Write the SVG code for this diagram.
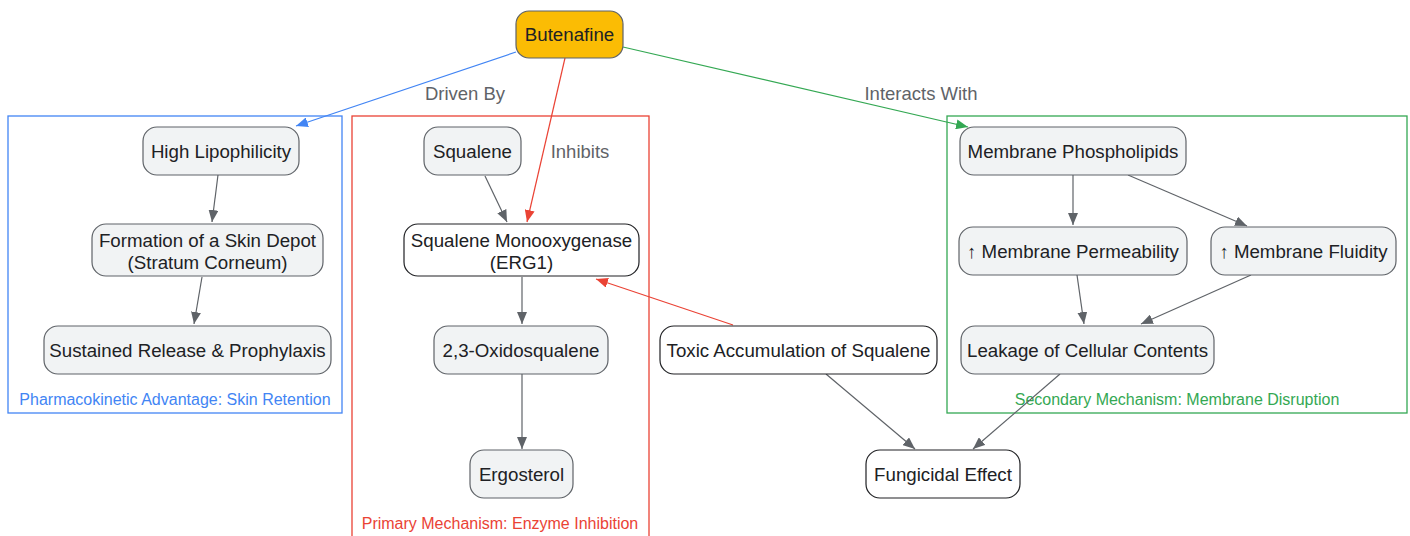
<svg xmlns="http://www.w3.org/2000/svg" width="1410" height="536" viewBox="0 0 1410 536">
<style>
.n rect{fill:#f1f3f4;stroke:#5f6368;stroke-width:1.2}
.n.w rect{fill:#ffffff;stroke:#202124}
.n.y rect{fill:#fbbc04;stroke:#5f6368}
.n text{font-family:"Liberation Sans",Arial,sans-serif;font-size:18.7px;fill:#202124;text-anchor:middle}
.cl{fill:none;stroke-width:1.3}
.cll{font-family:"Liberation Sans",Arial,sans-serif;font-size:16px;text-anchor:middle}
.e{fill:none;stroke:#5f6368;stroke-width:1.2}
.e.b{stroke:#4285f4}
.e.r{stroke:#ea4335}
.e.g{stroke:#34a853}
.el{font-family:"Liberation Sans",Arial,sans-serif;font-size:18.5px;fill:#5f6368;text-anchor:middle}
</style>
<defs>
<marker id="ag" viewBox="0 0 12 10" refX="12" refY="5" markerWidth="12" markerHeight="10" markerUnits="userSpaceOnUse" orient="auto"><path d="M0,0 L12,5 L0,10 z" fill="#5f6368"/></marker>
<marker id="ab" viewBox="0 0 12 10" refX="12" refY="5" markerWidth="12" markerHeight="10" markerUnits="userSpaceOnUse" orient="auto"><path d="M0,0 L12,5 L0,10 z" fill="#4285f4"/></marker>
<marker id="ar" viewBox="0 0 12 10" refX="12" refY="5" markerWidth="12" markerHeight="10" markerUnits="userSpaceOnUse" orient="auto"><path d="M0,0 L12,5 L0,10 z" fill="#ea4335"/></marker>
<marker id="agr" viewBox="0 0 12 10" refX="12" refY="5" markerWidth="12" markerHeight="10" markerUnits="userSpaceOnUse" orient="auto"><path d="M0,0 L12,5 L0,10 z" fill="#34a853"/></marker>
</defs>
<rect width="1410" height="536" fill="#ffffff"/>
<g id="clusters">
<g id="cluster-pk"><rect class="cl" x="8" y="116" width="334" height="297" stroke="#4285f4"/><text class="cll" x="175" y="405" fill="#4285f4">Pharmacokinetic Advantage: Skin Retention</text></g>
<g id="cluster-primary"><rect class="cl" x="352" y="116" width="297" height="425" stroke="#ea4335"/><text class="cll" x="500" y="529" fill="#ea4335">Primary Mechanism: Enzyme Inhibition</text></g>
<g id="cluster-secondary"><rect class="cl" x="947" y="116" width="460" height="297" stroke="#34a853"/><text class="cll" x="1177" y="405" fill="#34a853">Secondary Mechanism: Membrane Disruption</text></g>
</g>
<g id="connectors">
<path class="e b" d="M516,52 L296,126" marker-end="url(#ab)"/>
<path class="e r" d="M565,58 L527,222" marker-end="url(#ar)"/>
<path class="e g" d="M623,47 L968,127" marker-end="url(#agr)"/>
<path class="e" d="M218,175 L212,222" marker-end="url(#ag)"/>
<path class="e" d="M202,277 L194,324" marker-end="url(#ag)"/>
<path class="e" d="M485,176 L507,222" marker-end="url(#ag)"/>
<path class="e" d="M522,277 L522,324" marker-end="url(#ag)"/>
<path class="e" d="M522,374 L522,449" marker-end="url(#ag)"/>
<path class="e r" d="M733,325 L596,279" marker-end="url(#ar)"/>
<path class="e" d="M826,374 L915,449" marker-end="url(#ag)"/>
<path class="e" d="M1060,374 L973,449" marker-end="url(#ag)"/>
<path class="e" d="M1073,175 L1073,225" marker-end="url(#ag)"/>
<path class="e" d="M1128,175 L1247,226" marker-end="url(#ag)"/>
<path class="e" d="M1077,275 L1084,324" marker-end="url(#ag)"/>
<path class="e" d="M1251,275 L1141,324" marker-end="url(#ag)"/>
<text class="el" x="465" y="100">Driven By</text>
<text class="el" x="580" y="158">Inhibits</text>
<text class="el" x="921" y="100">Interacts With</text>
</g>
<g id="n-butenafine" class="n y"><rect x="516" y="11" width="107" height="47" rx="13"/><text x="569.5" y="41">Butenafine</text></g>
<g id="n-lipo" class="n"><rect x="143" y="127" width="156" height="48" rx="14"/><text x="221" y="157.5">High Lipophilicity</text></g>
<g id="n-depot" class="n"><rect x="92" y="224" width="231" height="52" rx="14"/><text x="207.5" y="247">Formation of a Skin Depot</text><text x="207.5" y="269">(Stratum Corneum)</text></g>
<g id="n-release" class="n"><rect x="44" y="326" width="287" height="48" rx="14"/><text x="187.5" y="356.5">Sustained Release &amp; Prophylaxis</text></g>
<g id="n-squalene" class="n"><rect x="424" y="127" width="97" height="48" rx="14"/><text x="472.5" y="157.5">Squalene</text></g>
<g id="n-sm" class="n w"><rect x="404" y="224" width="235" height="52" rx="14"/><text x="521.5" y="247">Squalene Monooxygenase</text><text x="521.5" y="269">(ERG1)</text></g>
<g id="n-oxido" class="n"><rect x="434" y="326" width="174" height="48" rx="14"/><text x="521" y="356.5">2,3-Oxidosqualene</text></g>
<g id="n-ergo" class="n"><rect x="470" y="450" width="103" height="48" rx="14"/><text x="521.5" y="480.5">Ergosterol</text></g>
<g id="n-toxic" class="n w"><rect x="660" y="326" width="277" height="48" rx="14"/><text x="798.5" y="356.5">Toxic Accumulation of Squalene</text></g>
<g id="n-fungi" class="n w"><rect x="866" y="450" width="154" height="48" rx="14"/><text x="943" y="480.5">Fungicidal Effect</text></g>
<g id="n-mp" class="n"><rect x="960" y="127" width="226" height="48" rx="14"/><text x="1073" y="157.5">Membrane Phospholipids</text></g>
<g id="n-perm" class="n"><rect x="959" y="227" width="228" height="48" rx="14"/><text x="1073" y="257.5">↑ Membrane Permeability</text></g>
<g id="n-fluid" class="n"><rect x="1211" y="227" width="185" height="48" rx="14"/><text x="1303.5" y="257.5">↑ Membrane Fluidity</text></g>
<g id="n-leak" class="n"><rect x="961" y="326" width="253" height="48" rx="14"/><text x="1087.5" y="356.5">Leakage of Cellular Contents</text></g>
</svg>
